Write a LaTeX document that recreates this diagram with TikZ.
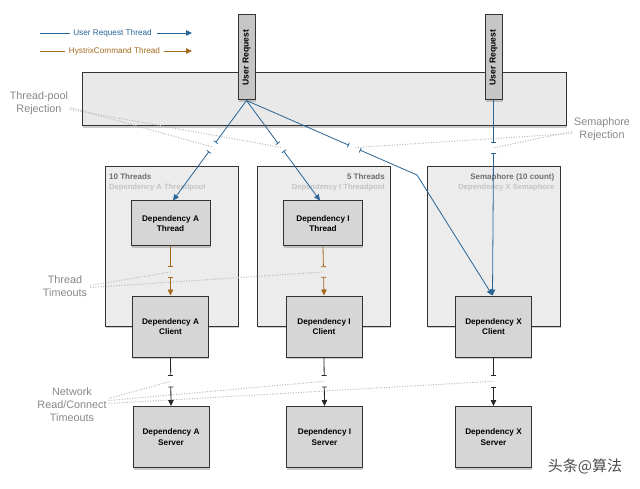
\documentclass[tikz,border=0pt]{standalone}
\usepackage{fontspec}
\setmainfont{Liberation Sans}
\newfontfamily\cjkfont{Noto Sans CJK SC}
\usetikzlibrary{arrows.meta,shadows,calc}
\definecolor{ublue}{RGB}{40,100,150}
\definecolor{hbrown}{RGB}{165,105,29}
\definecolor{bandgray}{RGB}{233,233,233}
\definecolor{groupgray}{RGB}{236,236,236}
\definecolor{boxgray}{RGB}{214,214,214}
\definecolor{urgray}{RGB}{198,198,198}
\definecolor{lblgray}{RGB}{135,135,135}
\definecolor{titlegray}{RGB}{110,110,110}
\definecolor{subgray}{RGB}{196,196,196}
\definecolor{dotgray}{RGB}{185,185,185}
\tikzset{
  shad/.style={drop shadow={opacity=0.4,shadow xshift=0.8pt,shadow yshift=-2.2pt}},
  band/.style={draw=black!80,line width=1pt,fill=bandgray,shad,minimum width=484pt,minimum height=53pt,inner sep=0pt},
  urbox/.style={draw=black!80,line width=1pt,fill=urgray,shad,minimum width=17pt,minimum height=85pt,inner sep=0pt},
  urtext/.style={rotate=90,font=\fontsize{8.6}{10}\selectfont\bfseries},
  group/.style={draw=black!80,line width=1pt,fill=groupgray,shad,minimum width=133pt,minimum height=159pt,inner sep=0pt},
  depbox/.style={draw=black!80,line width=1pt,fill=boxgray,shad,align=center,inner sep=0pt,font=\fontsize{8.2}{10.8}\selectfont\bfseries},
  thbox/.style={depbox,minimum width=79pt,minimum height=45pt},
  clbox/.style={depbox,minimum width=76pt,minimum height=61pt},
  gtitle/.style={font=\fontsize{8}{9}\selectfont\bfseries,text=titlegray,inner sep=0pt},
  gsub/.style={font=\fontsize{7.6}{9}\selectfont\bfseries,text=subgray,inner sep=0pt},
  sidelbl/.style={font=\fontsize{10.8}{12.8}\selectfont,text=lblgray,align=center,inner sep=0pt},
  legtext/.style={font=\fontsize{8.2}{10}\selectfont,inner sep=3.5pt},
  ulink/.style={draw=ublue,line width=0.8pt},
  hlink/.style={draw=hbrown,line width=0.8pt},
  klink/.style={draw=black!85,line width=0.8pt},
  teeend/.style={-{Bar[width=5pt,line width=0.8pt]}},
  teestart/.style={{Bar[width=5pt,line width=0.8pt]}-{Triangle[length=6pt,width=5.5pt]}},
  teeplain/.style={{Bar[width=5pt,line width=0.8pt]}-},
  arr/.style={-{Triangle[length=6pt,width=5.5pt]}},
  dotline/.style={draw=dotgray,line width=1pt,dash pattern=on 1pt off 1.6pt}
}
\begin{document}
\begin{tikzpicture}[x=1pt,y=-1pt]
\useasboundingbox (0,0) rectangle (640,489);

% legend
\node[legtext,text=ublue] (leg1) at (112.5,33) {User Request Thread};
\node[legtext,text=hbrown] (leg2) at (114.5,51) {HystrixCommand Thread};
\coordinate (l1a) at (40,33); \coordinate (l1b) at (192,33);
\coordinate (l2a) at (40,51); \coordinate (l2b) at (192,51);
\draw[ulink] (l1a) -- (leg1.west);
\draw[ulink,arr] ($(leg1.east)+(1.5,0)$) -- (l1b);
\draw[hlink] (l2a) -- (leg2.west);
\draw[hlink,arr] (leg2.east) -- (l2b);

% top band and user request boxes
\node[band] (band) at (324,99.5) {};
\node[urbox] (ur1) at (246.5,57.5) {};
\node[urtext] (ur1t) at (ur1.center) {User Request};
\node[urbox] (ur2) at (493.5,57.5) {};
\node[urtext] (ur2t) at (ur2.center) {User Request};

% groups
\node[group] (gA) at (171.5,246.5) {};
\node[group] (gI) at (323.5,246.5) {};
\node[group] (gX) at (493.5,246.5) {};
\node[gtitle,anchor=west] (gAt) at (109,177) {10 Threads};
\node[gsub,anchor=west] (gAs) at (109,187.5) {Dependency A Threadpool};
\node[gtitle,anchor=east] (gIt) at (385,177) {5 Threads};
\node[gsub,anchor=east] (gIs) at (385,187.5) {Dependency I Threadpool};
\node[gtitle,anchor=east] (gXt) at (554.5,177) {Semaphore (10 count)};
\node[gsub,anchor=east] (gXs) at (554.5,187.5) {Dependency X Semaphore};

% dependency boxes
\node[thbox] (tA) at (170.5,223.5) {Dependency A\\Thread};
\node[thbox] (tI) at (323,223.5) {Dependency I\\Thread};
\node[clbox] (cA) at (170.5,326.5) {Dependency A\\Client};
\node[clbox] (cI) at (324,326.5) {Dependency I\\Client};
\node[clbox] (cX) at (493.5,326.5) {Dependency X\\Client};
\node[clbox] (sA) at (171,437) {Dependency A\\Server};
\node[clbox] (sI) at (324.5,437) {Dependency I\\Server};
\node[clbox] (sX) at (493.5,437) {Dependency X\\Server};

% helper coordinates
\coordinate (tAin) at ($(tA.north)+(2.5,0)$);
\coordinate (tIin) at ($(tI.north)+(-3,0)$);
\coordinate (bend) at (417,175);
\coordinate (cXin) at ($(cX.north)+(-1,0)$);

% gap points
\coordinate (gA1) at ($(ur1.south)!0.42!(tAin)$);
\coordinate (gA2) at ($(ur1.south)!0.51!(tAin)$);
\coordinate (gI1) at ($(ur1.south)!0.43!(tIin)$);
\coordinate (gI2) at ($(ur1.south)!0.505!(tIin)$);
\coordinate (gD1) at ($(ur1.south)!0.6!(bend)$);
\coordinate (gD2) at ($(ur1.south)!0.665!(bend)$);
\coordinate (gV1) at ($(ur2.south)!0.215!(cX.north)$);
\coordinate (gV2) at ($(ur2.south)!0.27!(cX.north)$);
\coordinate (hA1) at ($(tA.south)!0.42!(cA.north)$);
\coordinate (hA2) at ($(tA.south)!0.62!(cA.north)$);
\coordinate (hI1) at ($(tI.south)!0.42!(cI.north)$);
\coordinate (hI2) at ($(tI.south)!0.62!(cI.north)$);
\coordinate (kA1) at ($(cA.south)!0.38!(sA.north)$);
\coordinate (kA2) at ($(cA.south)!0.6!(sA.north)$);
\coordinate (kI1) at ($(cI.south)!0.38!(sI.north)$);
\coordinate (kI2) at ($(cI.south)!0.6!(sI.north)$);
\coordinate (kX1) at ($(cX.south)!0.38!(sX.north)$);
\coordinate (kX2) at ($(cX.south)!0.6!(sX.north)$);

% side labels
\node[sidelbl] (lblTP) at (39,103.5) {Thread-pool\\Rejection};
\node[sidelbl] (lblSR) at (602,129.5) {Semaphore\\Rejection};
\node[sidelbl] (lblTT) at (65,286.5) {Thread\\Timeouts};
\node[sidelbl] (lblNT) at (72,404.5) {Network\\Read/Connect\\Timeouts};

% dotted guide lines
\draw[dotline] ($(lblTP.east)+(2,4)$) -- ($(gA1)!0.5!(gA2)$);
\draw[dotline] ($(lblTP.east)+(2,6)$) -- ($(gI1)!0.5!(gI2)$);
\draw[dotline] ($(lblSR.west)+(-2,2)$) -- ($(gV1)!0.5!(gV2)$);
\draw[dotline] ($(lblSR.west)+(-2,4)$) -- ($(gD1)!0.5!(gD2)$);
\draw[dotline] ($(lblTT.east)+(3,-1)$) -- ($(hA1)!0.5!(hA2)$);
\draw[dotline] ($(lblTT.east)+(3,1)$) -- ($(hI1)!0.5!(hI2)$);
\draw[dotline] ($(lblNT.east)+(2,-6)$) -- ($(kA1)!0.5!(kA2)$);
\draw[dotline] ($(lblNT.east)+(2,-4)$) -- ($(kI1)!0.5!(kI2)$);
\draw[dotline] ($(lblNT.east)+(2,-1)$) -- ($(kX1)!0.5!(kX2)$);

% user request thread connectors
\draw[ulink,teeend] (ur1.south) -- (gA1);
\draw[ulink,teestart] (gA2) -- (tAin);
\draw[ulink,teeend] (ur1.south) -- (gI1);
\draw[ulink,teestart] (gI2) -- (tIin);
\draw[ulink,teeend] (ur1.south) -- (gD1);
\draw[ulink,teeplain] (gD2) -- (bend);
\draw[ulink,arr] (bend) -- (cXin);
\draw[ulink,teeend] (ur2.south) -- (gV1);
\draw[ulink,teestart] (gV2) -- (cXin);

% hystrix command thread connectors
\draw[hlink,teeend] (tA.south) -- (hA1);
\draw[hlink,teestart] (hA2) -- (cA.north);
\draw[hlink,teeend] (tI.south) -- (hI1);
\draw[hlink,teestart] (hI2) -- (cI.north);

% network connectors
\draw[klink,teeend] (cA.south) -- (kA1);
\draw[klink,teestart] (kA2) -- (sA.north);
\draw[klink,teeend] (cI.south) -- (kI1);
\draw[klink,teestart] (kI2) -- (sI.north);
\draw[klink,teeend] (cX.south) -- (kX1);
\draw[klink,teestart] (kX2) -- (sX.north);

% watermark
\node[font=\cjkfont\fontsize{15}{16}\selectfont,text=black!70,inner sep=0pt] (wm) at (585,466) {头条@算法};
\end{tikzpicture}
\end{document}
